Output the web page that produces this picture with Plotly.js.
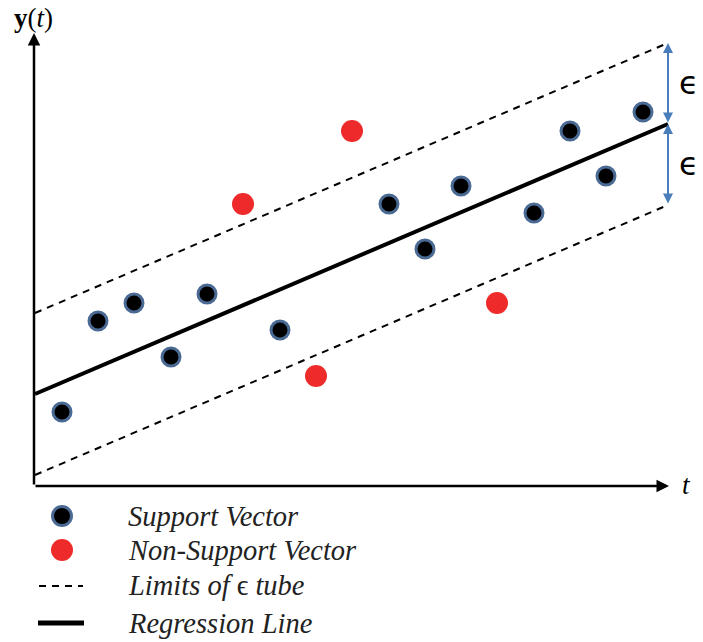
<!DOCTYPE html>
<html><head><meta charset="utf-8">
<script src="https://cdn.plot.ly/plotly-3.0.1.min.js"></script>
<style>body{margin:0;background:#fff}#c{width:703px;height:642px}</style>
</head><body><div id="c"></div>
<script>
// Data (t measured from origin, y measured up from the t axis)
var svT = [27, 63, 99, 136, 172, 245, 354, 390, 426, 499, 535, 571, 608];
var svY = [73, 164, 182, 128, 191, 155, 281, 236, 299, 272, 354, 309, 373];
var nsvT = [208, 317, 281, 462];
var nsvY = [281, 354, 109, 182];
var lineT = [0, 633];
var regY = [91, 361];
var epsilon = 81;
var upperY = regY.map(function(v){return v + epsilon;});
var lowerY = regY.map(function(v){return v - epsilon;});
var legendLabels = ["<i>Support Vector</i>", "<i>Non-Support Vector</i>", "<i>Limits of</i> \u03f5 <i>tube</i>", "<i>Regression Line</i>"];

var serif = "Liberation Serif";
var blue = "#4a7ebb";

var traces = [
  {x: lineT, y: upperY, mode: "lines", line: {color: "#000", width: 2, dash: "7px,6px"}, hoverinfo: "skip"},
  {x: lineT, y: lowerY, mode: "lines", line: {color: "#000", width: 2, dash: "7px,6px"}, hoverinfo: "skip"},
  {x: lineT, y: regY, mode: "lines", line: {color: "#000", width: 4}, hoverinfo: "skip"},
  {x: svT, y: svY, mode: "markers", marker: {color: "#000", size: 18, line: {color: "#4a6a94", width: 3}}},
  {x: nsvT, y: nsvY, mode: "markers", marker: {color: "#ee2a2a", size: 22, line: {width: 0}}}
];

var tEnd = lineT[1];
var annotations = [
  // axes arrows
  {x: -1, y: 452, ax: -1, ay: -1, xref: "x", yref: "y", axref: "x", ayref: "y", showarrow: true, arrowhead: 2, arrowsize: 1, arrowwidth: 2.5, arrowcolor: "#000", text: ""},
  {x: 634, y: -1, ax: -1, ay: -1, xref: "x", yref: "y", axref: "x", ayref: "y", showarrow: true, arrowhead: 2, arrowsize: 1, arrowwidth: 2.5, arrowcolor: "#000", text: ""},
  {x: -2, y: 467, xref: "x", yref: "y", text: "<b>y</b>(<i>t</i>)", showarrow: false, font: {family: serif, size: 27, color: "#000"}},
  {x: 651, y: 0, xref: "x", yref: "y", text: "<i>t</i>", showarrow: false, font: {family: serif, size: 27, color: "#000"}},
  // epsilon arrows
  {x: tEnd, y: upperY[1], ax: tEnd, ay: regY[1], xref: "x", yref: "y", axref: "x", ayref: "y", showarrow: true, arrowhead: 2, startarrowhead: 2, arrowside: "end+start", arrowsize: 1, arrowwidth: 2, arrowcolor: blue, text: ""},
  {x: tEnd, y: regY[1], ax: tEnd, ay: lowerY[1], xref: "x", yref: "y", axref: "x", ayref: "y", showarrow: true, arrowhead: 2, startarrowhead: 2, arrowside: "end+start", arrowsize: 1, arrowwidth: 2, arrowcolor: blue, text: ""},
  {x: tEnd + 21, y: regY[1] + epsilon / 2 + 1, xref: "x", yref: "y", text: "\u03f5", showarrow: false, font: {family: "DejaVu Sans", size: 32, color: "#000"}},
  {x: tEnd + 21, y: regY[1] - epsilon / 2 + 1, xref: "x", yref: "y", text: "\u03f5", showarrow: false, font: {family: "DejaVu Sans", size: 32, color: "#000"}}
];

// manual legend (pixel positions)
var legRows = [516, 550, 585, 623];
var shapes = [];
function px(x){return x/703;}
function py(y){return 1 - y/642;}
legendLabels.forEach(function(lbl, i){
  annotations.push({x: px(126), y: py(legRows[i]), xref: "paper", yref: "paper", xanchor: "left", yanchor: "middle",
    text: lbl, showarrow: false, font: {family: serif, size: 28.5, color: "#222"}});
});
shapes.push({type: "circle", xref: "paper", yref: "paper", x0: px(52.5), x1: px(71.5), y0: py(506.5), y1: py(525.5), fillcolor: "#000", line: {color: "#4a6a94", width: 3}});
shapes.push({type: "circle", xref: "paper", yref: "paper", x0: px(51), x1: px(73), y0: py(539), y1: py(561), fillcolor: "#ee2a2a", line: {width: 0}});
shapes.push({type: "line", xref: "paper", yref: "paper", x0: px(39), x1: px(83), y0: py(586), y1: py(586), line: {color: "#000", width: 2, dash: "7px,6px"}});
shapes.push({type: "line", xref: "paper", yref: "paper", x0: px(38), x1: px(84), y0: py(623), y1: py(623), line: {color: "#000", width: 5}});

var layout = {
  width: 703, height: 642,
  margin: {l: 0, r: 0, t: 0, b: 0},
  paper_bgcolor: "#fff", plot_bgcolor: "#fff",
  showlegend: false,
  xaxis: {range: [-35, 668], showgrid: false, zeroline: false, showticklabels: false, ticks: "", showline: false, fixedrange: true},
  yaxis: {range: [-157, 485], showgrid: false, zeroline: false, showticklabels: false, ticks: "", showline: false, fixedrange: true},
  annotations: annotations,
  shapes: shapes
};
Plotly.newPlot("c", traces, layout, {displayModeBar: false, staticPlot: true});
</script></body></html>
